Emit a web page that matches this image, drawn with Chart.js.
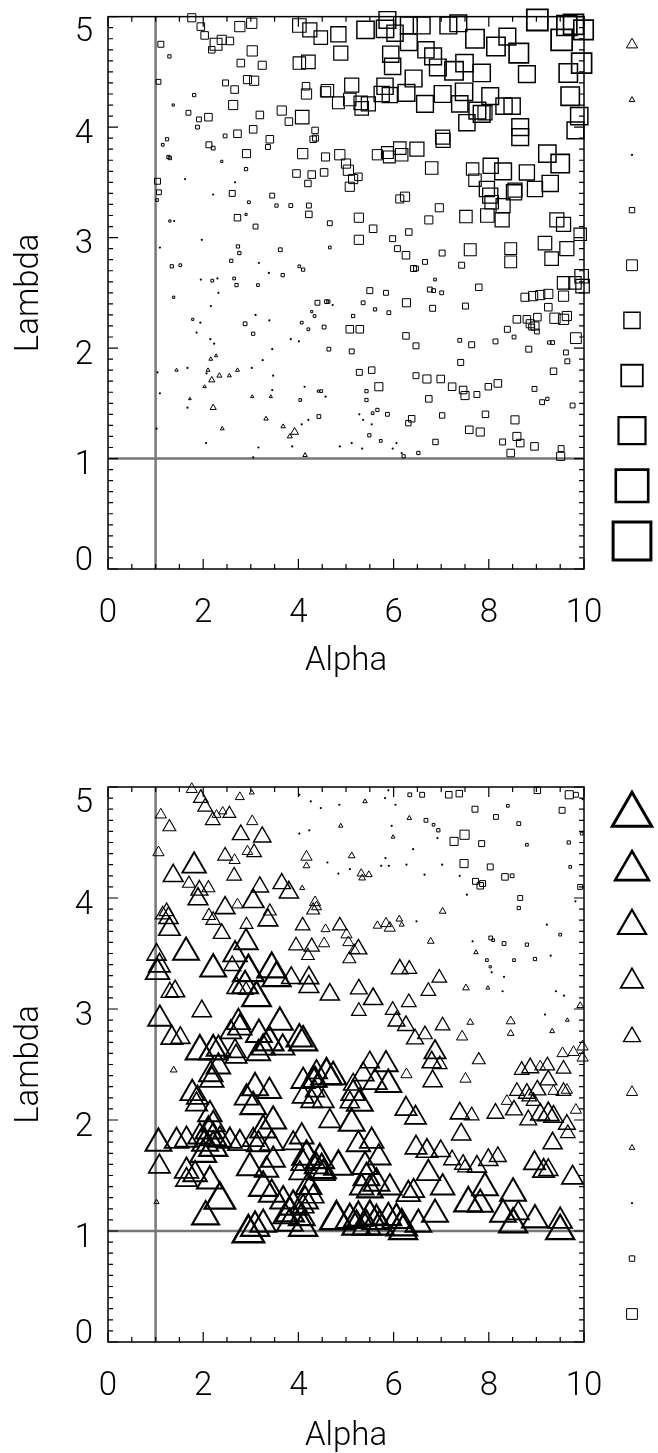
<!DOCTYPE html>
<html>
<head>
<meta charset="utf-8">
<script src="https://cdn.jsdelivr.net/npm/chart.js@4.4.1/dist/chart.umd.min.js"></script>
<style>
  html, body { margin: 0; background: #fff; }
  .panel { position: absolute; left: 0; width: 658px; }
</style>
</head>
<body>
<div class="panel" style="top:0;height:727px"><canvas id="upper" width="658" height="727"></canvas></div>
<div class="panel" style="top:727px;height:726px"><canvas id="lower" width="658" height="726"></canvas></div>
<script>
// ── Data ───────────────────────────────────────────────────
// [alpha, lambda, value]; value > 0 -> square, value < 0 -> triangle,
// value near 0 -> dot. Symbol size grows with |value|.
const upperPoints = [
  [1.76,4.99,1.5],[1.95,4.91,1.4],[2.03,4.83,1.4],[2.18,4.70,1.2],[2.27,4.75,2.2],[2.39,4.79,1.7],[2.56,4.78,1.4],
  [2.77,4.91,1.9],[3.02,4.94,1.9],[3.03,4.69,1.9],[2.79,4.58,1.4],[3.24,4.56,1.5],[4.02,4.92,2.5],[4.24,4.88,2.6],
  [4.47,4.81,2.5],[4.02,4.58,2.3],[4.21,4.59,2.5],[1.11,4.75,1.1],[1.29,4.64,0.6],[1.06,4.41,0.9],[1.81,4.29,0.6],
  [1.37,4.20,0.4],[2.47,4.40,1.1],[2.66,4.34,1.4],[2.93,4.43,1.5],[3.07,4.42,1.7],[2.63,4.20,1.7],[1.69,4.13,0.9],
  [1.91,4.07,0.9],[2.11,4.09,1.4],[1.88,4.00,0.7],[3.19,4.11,1.4],[3.65,4.15,1.7],[3.80,4.05,1.4],[4.08,4.09,2.5],
  [4.16,4.37,1.4],[4.17,4.30,1.9],[4.57,4.32,1.9],[1.24,3.89,0.6],[1.15,3.84,0.5],[1.27,3.73,0.6],[1.30,3.72,0.6],
  [2.12,3.84,1.1],[2.21,3.81,0.7],[2.46,3.92,0.7],[2.72,3.94,1.4],[3.05,3.98,1.4],[3.40,3.89,1.4],[3.36,3.82,0.9],
  [4.35,3.97,1.2],[4.31,3.89,1.2],[4.36,3.90,1.1],[2.91,3.76,1.5],[4.09,3.76,1.9],[4.57,3.73,1.5],[2.39,3.69,0.4],
  [2.90,3.62,0.6],[3.96,3.58,1.4],[4.28,3.57,1.4],[4.20,3.49,1.2],[4.54,3.59,1.4],[1.04,3.51,1.1],[1.07,3.41,0.9],
  [1.03,3.34,0.5],[2.67,3.50,0.3],[2.61,3.40,1.1],[2.21,3.39,0.2],[2.96,3.32,0.5],[3.45,3.38,0.9],[3.54,3.29,0.6],
  [3.84,3.29,0.7],[4.22,3.29,0.9],[4.22,3.21,1.2],[2.90,3.21,0.4],[2.72,3.18,1.2],[3.10,3.10,0.9],[1.30,3.15,0.4],
  [1.39,3.15,0.2],[1.62,3.53,0.1],[1.97,2.98,0.2],[1.09,2.91,0.2],[2.73,2.92,0.6],[2.76,2.86,0.6],[3.62,2.89,0.7],
  [2.59,2.79,0.6],[1.34,2.74,0.6],[1.52,2.75,0.5],[3.17,2.77,0.2],[4.02,2.74,0.5],[4.10,2.71,0.6],[3.38,2.68,0.2],
  [3.67,2.66,0.6],[2.19,2.61,0.5],[2.30,2.63,0.3],[1.95,2.62,0.1],[2.65,2.63,0.5],[2.70,2.57,0.6],[3.15,2.57,0.5],
  [2.32,2.50,0.2],[1.38,2.46,0.4],[2.16,2.38,0.25],[4.40,2.41,0.9],[4.59,2.42,0.7],[2.88,2.22,0.7],[1.78,2.26,0.4],
  [1.94,2.23,0.1],[3.10,2.30,0.1],[3.39,2.25,0.1],[4.07,2.23,0.5],[4.28,2.33,0.4],[4.34,2.29,0.5],[4.21,2.17,0.5],
  [4.54,2.19,0.7],[1.86,2.14,0.25],[3.05,2.13,0.6],[4.64,1.99,0.7],[2.15,2.08,0.2],[2.23,2.04,0.1],[3.84,2.08,0.1],
  [4.01,2.06,0.1],[3.45,1.99,0.1],[2.16,1.90,-0.7],[2.27,1.93,-0.6],[1.04,1.78,0.2],[1.44,1.80,-0.6],[1.67,1.82,0.25],
  [2.10,1.80,-0.7],[2.07,1.77,0.3],[2.18,1.71,-1.1],[2.34,1.75,-0.9],[2.55,1.75,-0.7],[2.72,1.80,-0.7],[3.02,1.82,0.1],
  [3.25,1.89,0.35],[3.47,1.75,0.35],[2.03,1.65,-0.6],[1.09,1.59,0.35],[1.72,1.54,-0.5],[1.67,1.46,0.1],[2.21,1.46,-1.1],
  [3.03,1.56,-0.6],[3.42,1.56,-0.6],[3.45,1.62,0.15],[4.13,1.65,0.25],[4.04,1.53,0.5],[4.42,1.61,0.4],[4.48,1.61,0.5],
  [4.57,1.56,0.2],[4.43,1.38,0.7],[3.32,1.36,-0.8],[2.40,1.27,-0.7],[1.02,1.27,0.3],[3.68,1.29,-0.8],[3.92,1.24,-1.4],
  [3.82,1.20,-0.9],[4.07,1.31,0.25],[4.21,1.35,0.2],[3.87,1.11,0.3],[2.06,1.14,0.3],[3.16,1.10,0.3],[3.05,1.01,0.2],
  [4.14,1.03,-0.8],
  [4.84,4.84,2.8],[5.41,4.88,3.2],[5.82,4.89,3.2],[5.87,4.97,3.1],[6.03,4.85,3.0],[6.32,4.92,3.1],[6.59,4.92,3.1],
  [7.15,4.92,3.1],[7.36,4.94,3.1],[7.71,4.80,3.4],[8.15,4.73,3.4],[8.39,4.82,3.1],[8.63,4.67,3.6],[9.02,4.97,3.9],
  [9.64,4.92,3.7],[9.78,4.93,3.7],[9.99,4.88,3.6],[9.53,4.79,3.9],[9.95,4.58,3.7],[9.67,4.49,3.4],[9.71,4.28,3.4],
  [9.90,4.10,3.2],[9.82,3.97,3.1],[4.89,4.67,2.6],[5.94,4.66,3.0],[5.98,4.55,3.0],[6.32,4.77,3.1],[6.68,4.70,3.0],
  [6.83,4.64,3.1],[6.93,4.54,3.1],[7.27,4.51,3.4],[7.49,4.58,3.2],[7.85,4.49,3.2],[8.80,4.48,3.1],[6.42,4.44,3.1],
  [5.12,4.38,2.6],[4.61,4.33,2.3],[4.84,4.22,2.2],[5.08,4.25,2.3],[5.31,4.22,2.5],[5.47,4.21,2.6],[5.33,4.17,2.5],
  [5.75,4.30,2.8],[5.92,4.29,2.8],[5.82,4.37,3.0],[6.27,4.31,3.1],[6.66,4.21,3.1],[7.03,4.30,3.1],[7.48,4.32,3.2],
  [7.39,4.21,3.0],[8.03,4.28,3.1],[8.32,4.19,3.0],[8.49,4.19,3.0],[7.76,4.15,3.1],[7.85,4.12,3.1],[7.54,4.04,3.0],
  [7.92,4.13,2.6],[8.66,4.00,3.1],[8.66,3.91,3.1],[7.04,3.88,2.6],[7.03,3.91,2.6],[4.87,3.75,1.9],[5.00,3.67,1.7],
  [5.05,3.61,1.9],[5.15,3.53,1.7],[5.26,3.55,1.4],[5.08,3.46,1.7],[5.66,3.75,1.9],[5.87,3.77,2.2],[5.91,3.73,2.2],
  [6.13,3.81,2.3],[6.17,3.75,2.3],[6.49,3.80,2.6],[6.80,3.63,2.3],[7.66,3.62,2.3],[7.71,3.52,2.3],[8.04,3.65,2.8],
  [8.30,3.60,3.1],[8.80,3.59,2.8],[9.23,3.76,3.2],[9.50,3.67,3.4],[9.29,3.49,3.0],[8.97,3.44,2.8],[7.96,3.44,2.8],
  [8.03,3.38,2.8],[8.06,3.32,2.5],[8.30,3.29,2.6],[8.53,3.41,2.8],[8.55,3.43,2.6],[6.24,3.37,1.7],[6.13,3.35,1.5],
  [6.96,3.27,1.5],[7.52,3.19,2.3],[7.97,3.20,2.5],[8.28,3.16,2.6],[4.66,3.13,0.9],[5.27,3.18,1.7],[5.27,2.98,1.7],
  [5.57,3.08,1.4],[5.98,2.99,1.1],[6.08,2.90,1.1],[6.26,2.84,1.4],[6.32,3.05,1.2],[4.66,2.91,0.5],[6.74,3.16,1.5],
  [6.66,2.78,0.9],[6.42,2.72,1.1],[6.47,2.72,0.9],[7.02,2.86,1.1],[7.43,2.75,1.1],[7.61,2.89,2.2],[8.46,2.90,2.2],
  [8.46,2.78,2.2],[9.18,2.95,2.5],[9.43,3.16,2.6],[9.57,3.12,2.6],[9.64,2.90,2.6],[9.32,2.81,2.5],[9.92,3.03,2.3],
  [9.95,2.65,2.5],[9.97,2.56,2.5],[9.81,2.59,2.3],[9.57,2.59,2.3],[9.57,2.47,1.9],[9.25,2.49,1.7],[9.08,2.48,1.7],
  [8.93,2.47,1.7],[8.76,2.46,1.5],[9.25,2.37,1.4],[5.50,2.52,1.1],[5.84,2.50,0.9],[6.27,2.41,1.5],[6.82,2.36,1.1],
  [7.51,2.38,1.1],[7.79,2.55,1.2],[6.76,2.53,0.9],[6.84,2.52,0.7],[7.01,2.50,0.7],[6.87,2.62,0.5],[4.63,2.42,0.6],
  [4.72,2.39,0.25],[5.36,2.41,0.7],[5.15,2.29,0.6],[5.61,2.35,0.6],[5.90,2.32,0.7],[8.59,2.26,1.4],[8.80,2.26,1.4],
  [9.02,2.28,1.4],[9.39,2.27,1.9],[9.57,2.26,1.9],[9.64,2.29,1.7],[8.97,2.20,1.5],[8.87,2.22,1.5],[5.08,2.17,1.4],
  [5.29,2.17,1.4],
  [5.12,1.97,0.9],[6.26,2.11,1.2],[6.47,2.02,1.1],[7.39,2.07,0.7],[7.64,2.03,1.1],[8.14,2.06,0.9],[8.39,2.17,1.1],
  [8.53,2.10,0.7],[8.84,1.99,1.1],[8.90,2.19,1.1],[9.01,2.15,0.9],[9.27,2.05,0.6],[9.34,2.05,0.7],[9.83,2.09,2.0],
  [9.62,1.96,0.9],[9.65,1.88,0.9],[7.41,1.87,1.1],[9.36,1.79,1.2],[5.28,1.78,1.1],[5.54,1.80,1.2],[5.69,1.65,1.5],
  [5.43,1.61,0.6],[5.43,1.53,0.6],[6.47,1.75,1.1],[6.70,1.72,1.5],[6.99,1.72,1.4],[7.23,1.65,1.4],[7.46,1.62,1.4],
  [7.50,1.57,1.5],[7.75,1.58,1.1],[7.99,1.65,1.2],[8.19,1.68,1.4],[6.74,1.54,1.2],[8.96,1.63,0.9],[9.12,1.51,0.9],
  [9.23,1.54,0.6],[9.76,1.48,0.9],[8.55,1.35,1.5],[7.93,1.40,1.2],[7.02,1.39,1.0],[6.38,1.36,1.2],[6.31,1.32,1.0],
  [5.87,1.40,0.7],[5.66,1.44,0.6],[5.56,1.41,0.5],[5.36,1.35,0.35],[5.28,1.40,0.3],[5.54,1.31,0.35],[5.49,1.21,0.6],
  [7.59,1.26,1.4],[7.82,1.24,1.5],[8.59,1.20,1.5],[8.66,1.14,1.4],[8.29,1.15,1.1],[8.46,1.05,1.4],[8.96,1.11,1.4],
  [9.52,1.09,1.1],[9.51,1.02,1.5],[6.88,1.15,1.0],[6.52,1.05,0.6],[6.21,1.02,0.6],[6.17,1.05,0.25],[6.06,1.14,0.35],
  [5.98,1.09,0.35],[5.73,1.16,0.5],[5.12,1.14,0.2],[4.87,1.11,0.1],[5.34,1.09,0.1]
];

const lowerPoints = [
  [1.76,4.98,-2.0],[1.95,4.90,-2.6],[2.04,4.82,-2.6],[2.20,4.70,-2.6],[2.28,4.75,-1.6],[2.41,4.78,-1.5],[2.55,4.76,-2.3],
  [2.77,4.91,-1.6],[3.02,4.95,-0.9],[1.11,4.75,-2.0],[1.29,4.64,-2.3],[1.06,4.41,-2.0],[3.03,4.69,-2.0],[2.79,4.57,-3.0],
  [3.24,4.55,-3.1],[2.46,4.38,-2.6],[2.66,4.34,-2.0],[2.93,4.42,-1.9],[3.07,4.41,-2.6],[1.81,4.29,-4.2],[1.37,4.20,-3.5],
  [2.65,4.20,-2.6],[1.70,4.13,-2.3],[1.92,4.07,-3.0],[2.11,4.09,-2.3],[1.89,3.99,-3.5],[3.19,4.10,-3.1],[3.65,4.13,-3.1],
  [3.80,4.05,-3.4],[4.08,4.09,-0.9],[4.17,4.37,-2.0],[4.17,4.29,-1.2],[4.02,4.58,0.15],[4.23,4.61,0.3],[4.02,4.93,0.2],
  [4.26,4.87,0.1],[4.47,4.81,0.3],[4.61,4.32,0.1],[1.23,3.88,-2.6],[1.15,3.85,-2.6],[1.29,3.72,-3.8],[1.27,3.82,-3.4],
  [2.12,3.84,-2.3],[2.21,3.80,-2.6],[2.46,3.91,-3.5],[2.72,3.94,-2.0],[3.05,3.97,-3.8],[3.40,3.88,-2.3],[3.36,3.80,-3.5],
  [4.35,3.96,-2.0],[4.31,3.89,-2.3],[4.38,3.92,-1.8],[2.91,3.76,-2.3],[4.09,3.75,-2.6],[4.57,3.72,-1.6],[2.39,3.68,-3.0],
  [2.90,3.60,-4.2],[3.95,3.57,-2.6],[4.28,3.56,-2.7],[4.20,3.48,-2.3],[4.54,3.59,-2.0],[1.02,3.49,-3.4],[1.08,3.39,-3.8],
  [1.04,3.33,-4.2],[1.64,3.51,-4.6],[2.67,3.49,-4.2],[2.61,3.39,-3.0],[2.21,3.36,-4.6],[2.95,3.33,-5.4],[2.88,3.21,-4.6],
  [3.12,3.10,-5.1],[3.44,3.36,-5.1],[3.54,3.28,-5.0],[3.85,3.28,-3.4],[4.22,3.28,-3.5],[4.22,3.20,-3.5],[2.70,3.19,-3.4],
  [2.90,3.17,-2.6],[1.30,3.15,-3.1],[1.41,3.16,-3.4],[1.97,2.98,-3.4],[1.09,2.91,-4.2],[2.74,2.88,-4.2],[2.77,2.83,-4.2],
  [3.61,2.88,-4.6],[2.58,2.79,-3.8],[1.34,2.74,-3.8],[1.52,2.74,-3.4],[3.17,2.77,-4.6],[3.39,2.70,-5.0],[4.02,2.73,-4.6],
  [4.10,2.70,-5.0],[3.67,2.65,-4.2],[1.93,2.62,-5.0],[2.21,2.62,-5.0],[2.32,2.64,-4.2],[2.67,2.62,-3.8],[2.69,2.57,-3.8],
  [3.16,2.60,-4.2],[3.26,2.65,-4.2],[1.38,2.45,-1.2],[2.32,2.48,-4.2],[2.16,2.41,-4.2],
  [2.18,2.36,-4.2],[1.77,2.24,-4.2],[1.88,2.20,-3.8],[1.86,2.14,-3.8],[3.09,2.29,-4.6],[3.39,2.26,-4.2],[2.91,2.20,-4.2],
  [3.05,2.12,-4.6],[3.47,1.99,-4.6],[3.26,1.91,-4.6],[2.14,2.05,-4.2],[2.21,1.96,-4.2],[2.11,1.90,-4.6],[1.93,1.85,-4.2],
  [2.04,1.79,-4.6],[2.21,1.84,-4.6],[2.35,1.82,-4.2],[1.06,1.79,-4.6],[1.44,1.81,-4.2],[1.65,1.82,-4.2],[2.56,1.81,-4.2],
  [2.77,1.79,-4.2],[3.05,1.82,-3.8],[3.16,1.78,-4.2],[3.44,1.79,-4.2],[2.21,1.75,-5.0],[2.00,1.69,-4.6],[4.07,1.85,-4.2],
  [3.89,1.79,-3.8],[1.08,1.58,-3.8],[1.65,1.54,-4.2],[1.65,1.46,-3.8],[1.83,1.51,-4.2],[2.14,1.45,-4.6],[2.35,1.28,-5.4],
  [2.98,1.57,-4.6],[3.33,1.55,-4.2],[3.47,1.64,-4.2],[3.26,1.39,-5.0],[3.44,1.33,-4.6],[3.68,1.27,-4.6],[3.89,1.22,-5.0],
  [3.82,1.16,-5.0],[4.10,1.61,-4.2],[4.03,1.52,-3.8],[4.21,1.40,-4.6],[4.14,1.27,-4.6],[4.38,1.58,-4.2],[4.52,1.52,-4.2],
  [1.02,1.26,-0.9],[2.05,1.13,-4.8],[2.95,0.98,-5.6],[3.09,1.03,-5.0],[3.26,1.06,-4.6],[4.10,1.03,-5.0],[3.82,1.07,-4.6],
  [3.72,1.13,-4.2],[4.07,1.12,-4.6],
  [4.35,2.36,-4.2],[4.73,2.39,-4.6],[5.36,2.41,-3.8],[5.61,2.34,-4.2],[5.89,2.32,-4.6],[6.82,2.35,-3.4],[6.27,2.41,-2.0],
  [7.51,2.37,-2.0],[4.10,2.21,-3.8],[4.28,2.17,-3.8],[4.52,2.17,-3.8],[4.35,2.26,-3.4],[5.15,2.24,-4.2],[5.29,2.15,-4.6],
  [5.08,2.16,-3.4],[4.66,1.99,-3.8],[5.12,1.97,-4.6],[6.26,2.10,-3.8],[6.46,2.02,-3.8],[7.39,2.06,-3.4],[7.64,2.04,-2.6],
  [8.14,2.06,-3.0],[8.38,2.17,-2.0],[8.53,2.09,-3.0],[8.59,2.26,-2.6],[8.80,2.24,-3.0],[8.85,2.21,-2.6],[9.02,2.27,-3.0],
  [8.94,2.17,-2.6],[9.25,2.36,-3.0],[9.36,2.26,-2.0],[9.57,2.26,-2.6],[9.64,2.27,-2.0],[8.69,2.45,-2.6],[8.87,2.47,-3.0],
  [9.08,2.48,-2.0],[9.23,2.49,-2.6],[9.57,2.46,-2.6],[8.83,2.00,-3.0],[9.08,2.05,-3.4],[9.25,2.05,-3.8],[9.36,2.03,-3.4],
  [9.83,2.09,-2.0],[9.64,1.96,-3.0],[9.66,1.88,-2.6],[7.42,1.87,-3.4],[9.34,1.79,-3.4],[5.26,1.78,-4.2],[5.54,1.81,-4.2],
  [5.69,1.66,-4.2],[4.17,1.67,-5.0],[4.45,1.64,-5.0],[4.49,1.55,-5.0],[4.84,1.58,-5.0],[5.40,1.58,-4.6],[5.43,1.48,-4.6],
  [5.50,1.37,-4.6],[5.64,1.43,-4.6],[5.92,1.39,-4.2],[5.33,1.39,-4.2],[6.47,1.75,-3.8],[6.70,1.72,-3.8],[6.99,1.72,-3.4],
  [7.23,1.64,-3.0],[7.46,1.60,-3.0],[7.50,1.57,-2.6],[7.75,1.58,-3.4],[7.99,1.64,-3.4],[8.19,1.67,-3.0],[6.73,1.52,-4.2],
  [8.96,1.61,-3.8],[9.15,1.54,-3.8],[9.25,1.55,-3.4],[9.76,1.48,-3.8],[7.03,1.39,-4.2],[6.31,1.33,-4.2],[6.42,1.36,-3.8],
  [7.92,1.39,-4.6],[8.51,1.34,-4.6],[7.57,1.25,-5.0],[7.82,1.24,-4.6],[6.87,1.15,-4.6],[8.30,1.15,-4.6],[8.62,1.16,-3.8],
  [8.97,1.10,-4.6],[8.51,1.06,-5.0],[9.50,1.09,-4.2],[9.50,1.00,-5.0],[4.80,1.10,-5.8],[5.08,1.10,-5.0],[5.26,1.12,-5.0],
  [5.50,1.13,-5.0],[5.64,1.09,-5.0],[5.89,1.12,-4.6],[6.06,1.10,-5.0],[6.17,1.04,-5.4],[6.52,1.06,-4.6],[6.20,1.00,-5.0],
  [5.43,1.04,-5.0],[5.22,1.04,-5.0],[5.71,1.04,-5.0],[4.31,1.31,-3.8],[4.10,1.22,-3.8],[4.24,1.39,-3.8],
  [5.89,4.97,0.15],[6.34,4.93,0.7],[6.60,4.93,0.9],[7.16,4.93,1.2],[7.38,4.94,1.2],[9.02,4.97,1.2],[9.69,4.93,1.5],
  [9.83,4.93,0.9],[4.86,4.84,0.1],[5.40,4.87,-0.8],[5.82,4.90,0.1],[6.04,4.84,0.15],[7.71,4.80,1.1],[8.15,4.73,0.9],
  [8.40,4.83,0.5],[8.63,4.67,0.7],[9.54,4.79,1.1],[9.97,4.89,0.25],[6.68,4.70,0.7],[6.84,4.66,0.5],[6.94,4.61,0.6],
  [7.27,4.51,1.5],[7.49,4.57,1.7],[7.85,4.49,1.1],[8.80,4.48,0.5],[9.68,4.50,0.6],[9.95,4.58,0.5],[5.96,4.65,0.2],
  [6.33,4.72,-0.8],[4.89,4.65,-0.8],[5.99,4.55,-0.7],[6.92,4.54,0.25],[6.41,4.44,0.1],[7.48,4.31,1.5],[8.03,4.28,1.1],
  [8.34,4.19,1.2],[8.49,4.20,0.7],[7.72,4.15,1.1],[7.82,4.11,1.2],[7.87,4.13,1.1],[9.71,4.28,0.5],[9.92,4.10,0.9],
  [5.12,4.38,-1.2],[5.83,4.36,0.15],[5.90,4.29,0.25],[6.27,4.30,0.1],[5.74,4.29,0.1],[5.08,4.26,0.1],[4.84,4.22,0.1],
  [5.32,4.22,-1.5],[5.34,4.18,-1.2],[5.48,4.21,-1.2],[6.65,4.21,0.25],[7.02,4.30,0.1],[7.39,4.20,0.1],[7.54,4.03,0.25],
  [8.66,4.00,0.9],[8.63,3.91,0.6],[9.82,3.97,0.2],[7.03,3.88,-1.2],[9.22,3.76,0.2],[9.50,3.67,0.5],[6.48,3.79,0.2],
  [4.87,3.75,-2.6],[5.01,3.67,-2.0],[5.05,3.60,-2.0],[5.17,3.53,-2.0],[5.26,3.54,-3.0],[5.07,3.45,-2.3],[5.66,3.75,-1.5],
  [5.84,3.77,-1.9],[5.92,3.73,-2.0],[6.12,3.81,-1.2],[6.17,3.76,-0.9],[6.78,3.61,-1.2],[7.66,3.61,0.25],[8.04,3.64,0.7],
  [8.09,3.62,0.5],[8.32,3.59,0.7],[8.80,3.58,0.6],[7.73,3.51,-0.8],[7.96,3.44,0.5],[8.53,3.44,0.5],[8.03,3.38,0.4],
  [8.06,3.33,0.15],[8.32,3.29,0.1],[8.29,3.16,0.1],[8.97,3.45,0.6],[9.30,3.48,0.2],[6.13,3.36,-3.0],[6.33,3.36,-2.6],
  [6.96,3.28,-2.6],[7.52,3.19,-1.2],[7.98,3.19,-0.7],[9.41,3.16,0.3],[9.58,3.12,0.1],[4.66,3.13,-3.4],[5.27,3.18,-3.0],
  [5.57,3.09,-3.4],[5.27,2.98,-2.6],[5.98,2.99,-2.6],[6.06,2.89,-3.0],[6.26,2.85,-3.0],[6.32,3.06,-2.6],[6.73,3.16,-2.6],
  [7.03,2.85,-2.6],[6.66,2.77,-2.6],[6.45,2.73,-3.0],[7.44,2.75,-2.0],[7.61,2.88,-1.2],[8.46,2.89,-1.6],[8.46,2.78,-1.2],
  [9.33,2.80,-0.9],[9.18,2.95,0.2],[9.65,2.90,-0.7],[9.92,3.03,-1.2],[9.55,2.60,-2.0],[9.78,2.61,-2.0],[9.97,2.66,-2.0],
  [9.97,2.56,-2.0],[7.79,2.54,-2.3],[6.80,2.52,-3.4],[6.87,2.61,-3.8],[6.97,2.50,-2.6],[5.50,2.52,-3.4],[5.84,2.50,-4.2],
  [5.15,2.32,-3.4],[4.59,2.40,-5.4],[4.38,2.43,-3.8],[4.31,2.36,-4.2],[4.10,2.35,-4.2]
];

// Size key drawn to the right of each panel, top to bottom
const upperKey = [-2, -1, 0, 1, 2, 3, 4, 5, 6, 7];
const lowerKey = [-7, -6, -5, -4, -3, -2, -1, 0, 1, 2];

// Axes
const alphaRange = [0, 10];
const lambdaRange = [0, 5];
const lambdaTicks = [0, 1, 2, 3, 4, 5];
const refAlpha = 1;
const refLambda = 1;

// ── Symbol helpers ─────────────────────────────────────────
const PX_PER_UNIT = 5.4;
const FONT = { family: 'Roboto, "DejaVu Sans", sans-serif', size: 33, weight: '300' };
const CAP_HEIGHT = 23.5;

function symbolFor(v) {
  const a = Math.abs(v);
  if (a < 0.4) return { style: 'circle', radius: 1.1, line: 0, fill: '#000' };
  const line = a <= 2 ? 1 : 1 + (a - 2) * 0.4;
  const side = a * PX_PER_UNIT;
  if (v > 0) return { style: 'rect', radius: side / (2 * Math.SQRT1_2), line, fill: 'rgba(0,0,0,0)' };
  return { style: 'triangle', radius: side * 1.04 / Math.sqrt(3), line, fill: 'rgba(0,0,0,0)' };
}
const sym = (c, key) => symbolFor(c.raw ? c.raw.v : 1)[key];

// ── Frame, inward ticks, reference lines and size key ──────
const framePlugin = {
  id: 'frame',
  beforeDatasetsDraw(chart) {
    const { ctx, chartArea: a, scales: { x, y } } = chart;
    ctx.save();
    // reference lines
    ctx.strokeStyle = '#777';
    ctx.lineWidth = 2.5;
    ctx.beginPath();
    const rx = x.getPixelForValue(refAlpha), ry = y.getPixelForValue(refLambda);
    ctx.moveTo(rx, a.top); ctx.lineTo(rx, a.bottom);
    ctx.moveTo(a.left, ry); ctx.lineTo(a.right, ry);
    ctx.stroke();
    // box
    ctx.strokeStyle = '#000';
    ctx.lineWidth = 1.5;
    ctx.strokeRect(a.left, a.top, a.right - a.left, a.bottom - a.top);
    // ticks
    ctx.lineWidth = 1.2;
    ctx.beginPath();
    for (let i = 0; i <= 20; i++) {
      const px = x.getPixelForValue(alphaRange[0] + i * 0.5);
      const len = i % 4 === 0 ? 10 : 5;
      ctx.moveTo(px, a.bottom); ctx.lineTo(px, a.bottom - len);
      ctx.moveTo(px, a.top); ctx.lineTo(px, a.top + len);
    }
    for (let i = 0; i <= 50; i++) {
      const py = y.getPixelForValue(lambdaRange[0] + i * 0.1);
      const len = i % 10 === 0 ? 10 : 5;
      ctx.moveTo(a.left, py); ctx.lineTo(a.left + len, py);
      ctx.moveTo(a.right, py); ctx.lineTo(a.right - len, py);
    }
    ctx.stroke();
    // lambda labels, end labels kept inside the frame
    ctx.fillStyle = '#000';
    ctx.font = `${FONT.weight} ${FONT.size}px ${FONT.family}`;
    ctx.textAlign = 'right';
    ctx.textBaseline = 'alphabetic';
    lambdaTicks.forEach(t => {
      let base = y.getPixelForValue(t) + 4 + CAP_HEIGHT / 2;
      base = Math.min(base, a.bottom + 1);
      base = Math.max(base, a.top + 1 + CAP_HEIGHT);
      ctx.fillText(String(t), a.left - 15, base);
    });
    ctx.restore();
  },
  afterDatasetsDraw(chart, args, opts) {
    const { ctx, chartArea: a } = chart;
    const key = opts.levels || [];
    const cx = a.right + 48;
    const y0 = a.top + 28, y1 = a.bottom - 28;
    ctx.save();
    ctx.strokeStyle = '#000';
    key.forEach((v, i) => {
      const s = symbolFor(v);
      const cy = y0 + (y1 - y0) * i / (key.length - 1);
      ctx.fillStyle = s.fill;
      ctx.lineWidth = s.line;
      Chart.helpers.drawPoint(ctx, { pointStyle: s.style, radius: s.radius, rotation: 0, borderWidth: s.line }, cx, cy);
    });
    ctx.restore();
  }
};

function makePanel(id, points, key, padTop, axisHeight, titlePad) {
  return new Chart(document.getElementById(id), {
    type: 'scatter',
    data: {
      datasets: [{
        data: points.map(([x, y, v]) => ({ x, y, v })),
        clip: false,
        pointStyle: c => sym(c, 'style'),
        pointRadius: c => sym(c, 'radius'),
        pointBorderWidth: c => sym(c, 'line'),
        pointBackgroundColor: c => sym(c, 'fill'),
        pointBorderColor: '#000'
      }]
    },
    options: {
      responsive: false,
      animation: false,
      events: [],
      layout: { padding: { top: padTop, right: 74, bottom: 0, left: 0 } },
      plugins: { legend: { display: false }, tooltip: { enabled: false }, frame: { levels: key } },
      scales: {
        x: {
          min: alphaRange[0], max: alphaRange[1],
          grid: { display: false, drawTicks: false },
          border: { display: false },
          ticks: { stepSize: 2, maxRotation: 0, autoSkip: false, padding: 25, color: '#000', font: FONT },
          title: { display: true, text: 'Alpha', color: '#000', font: FONT, padding: { top: 0, bottom: titlePad } },
          afterFit: s => { s.height = axisHeight; s.paddingLeft = 0; s.paddingRight = 0; }
        },
        y: {
          min: lambdaRange[0], max: lambdaRange[1],
          grid: { display: false, drawTicks: false },
          border: { display: false },
          ticks: { display: false, stepSize: 1 },
          title: { display: true, text: 'Lambda', color: '#000', font: FONT, padding: { top: 10, bottom: 0 } },
          afterFit: s => { s.width = 108; s.paddingTop = 0; s.paddingBottom = 0; }
        }
      }
    },
    plugins: [framePlugin]
  });
}

makePanel('upper', upperPoints, upperKey, 14, 158, 45);
makePanel('lower', lowerPoints, lowerKey, 60, 111, -4);
</script>
</body>
</html>
